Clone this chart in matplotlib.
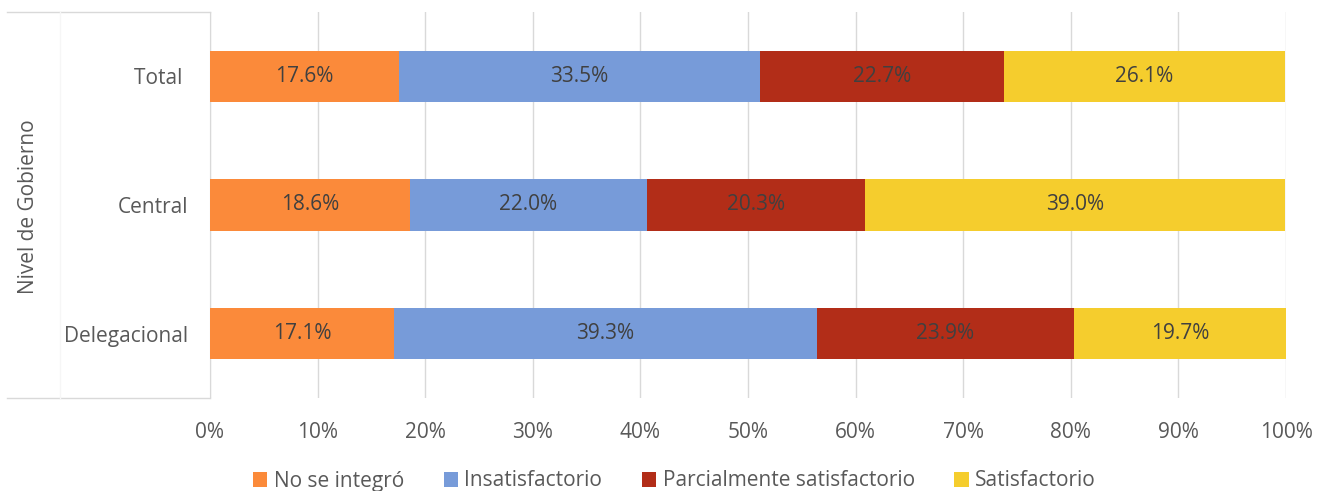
import matplotlib.pyplot as plt
from matplotlib.lines import Line2D

plt.rcParams["font.family"] = ["Open Sans", "DejaVu Sans"]

niveles = ["Delegacional", "Central", "Total "]
series = ["No se integró", "Insatisfactorio", "Parcialmente satisfactorio", "Satisfactorio"]
no_integro = [17.1, 18.6, 17.6]
insatisfactorio = [39.3, 22.0, 33.5]
parcial = [23.9, 20.3, 22.7]
satisfactorio = [19.7, 39.0, 26.1]
colores = ["#FB8A3A", "#779BD9", "#B22D18", "#F5CD2D"]

valores = [no_integro, insatisfactorio, parcial, satisfactorio]

fig = plt.figure(figsize=(13.25, 4.91), dpi=100)
ax = fig.add_axes([210 / 1325, 1 - 398 / 491, (1286 - 210) / 1325, 386 / 491])

izq = [0.0] * len(niveles)
for nombre, vals, col in zip(series, valores, colores):
    bars = ax.barh(niveles, vals, left=izq, height=0.4, color=col, label=nombre, zorder=3)
    ax.bar_label(bars, labels=[f"{v:.1f}%" for v in vals], label_type="center",
                 color="#404040", fontsize=15)
    izq = [a + b for a, b in zip(izq, vals)]

ax.set_xlim(0, 100)
ax.set_ylim(-0.5, 2.5)
ax.set_xticks(range(0, 101, 10))
ax.set_xticklabels([f"{t}%" for t in range(0, 101, 10)])
ax.grid(axis="x", color="#D9D9D9", linewidth=1, zorder=0)
ax.tick_params(axis="both", length=0, labelsize=15, labelcolor="#595959")
ax.tick_params(axis="x", pad=17)
ax.tick_params(axis="y", pad=16)
for s in ["top", "right", "bottom"]:
    ax.spines[s].set_visible(False)
ax.spines["left"].set_color("#D9D9D9")

# lineas del area de categorias
fig.add_artist(Line2D([7 / 1325, 210 / 1325], [1 - 398 / 491] * 2, color="#D9D9D9", lw=1))
fig.add_artist(Line2D([7 / 1325, 210 / 1325], [1 - 12 / 491] * 2, color="#D9D9D9", lw=1))
fig.add_artist(Line2D([60 / 1325, 60 / 1325], [1 - 12 / 491, 1 - 398 / 491], color="#F6F6F6", lw=1))

fig.text(28 / 1325, 1 - 207 / 491, "Nivel de Gobierno", rotation=90, va="center", ha="center",
         fontsize=15, color="#595959")

fig.legend(loc="center", bbox_to_anchor=(0.509, 1 - 481 / 491), ncol=4, frameon=False,
           fontsize=15, labelcolor="#595959", handlelength=0.7, handleheight=0.7,
           handletextpad=0.3, columnspacing=1.9)

fig.savefig("out.png", dpi=100)
